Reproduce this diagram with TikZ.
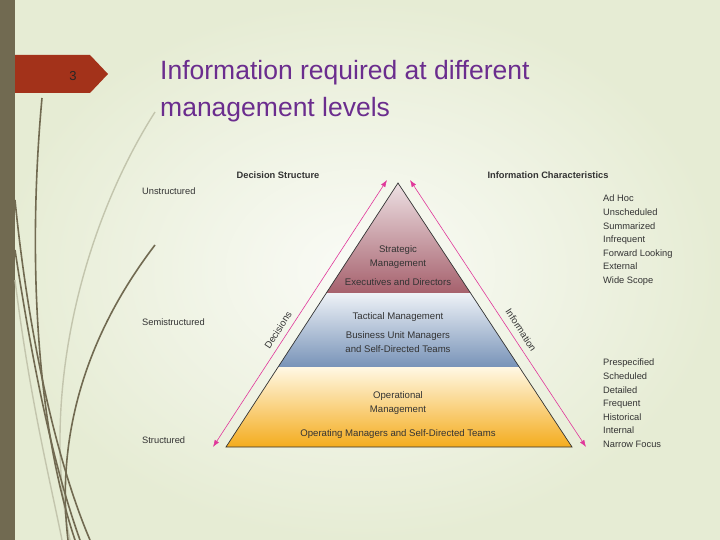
\documentclass[tikz,border=0pt]{standalone}
\usepackage{fontspec}
\setmainfont{Liberation Sans}
\usetikzlibrary{arrows.meta}
\definecolor{bgc}{HTML}{E6ECD4}
\definecolor{stripe}{HTML}{716A51}
\definecolor{tagred}{HTML}{A3321A}
\definecolor{ttl}{HTML}{6B2D8E}
\definecolor{pinkar}{HTML}{E0379A}
\definecolor{txt}{HTML}{333333}
\definecolor{sTop}{HTML}{EDE0E3}
\definecolor{sBot}{HTML}{A6616D}
\definecolor{tTop}{HTML}{EEF2F7}
\definecolor{tBot}{HTML}{7893B8}
\definecolor{oTop}{HTML}{FFF8E4}
\definecolor{oBot}{HTML}{F4AC1E}
\tikzset{
  small/.style={font=\fontsize{9.3}{11}\selectfont, text=txt, inner sep=0pt},
  hdr/.style={font=\bfseries\fontsize{9.3}{11}\selectfont, text=txt, inner sep=0pt},
  band/.style={font=\fontsize{9.6}{13.8}\selectfont, text=txt, align=center, inner sep=0pt},
  pinkarrow/.style={pinkar, line width=0.6pt, {Latex[length=7pt,width=5pt]}-{Latex[length=7pt,width=5pt]}},
  deco/.style={stripe, line width=1.6pt},
  decol/.style={stripe!30!bgc, line width=1.4pt},
  char/.style={small, anchor=north west, align=left, font=\fontsize{9.3}{13.6}\selectfont}
}
\begin{document}
\begin{tikzpicture}[x=1pt,y=-1pt]
\useasboundingbox (0,0) rectangle (720,540);
\shade[inner color=white!80!bgc, outer color=bgc] (0,0) rectangle (720,540);
% stripe
\fill[stripe] (0,0) rectangle (15,540);
% decorative curves
\draw[decol] (155,112) .. controls (80,230) and (40,400) .. (70,540);
\draw[decol] (15,280) .. controls (30,400) and (50,480) .. (62,540);
\draw[deco] (42,98) .. controls (28,250) and (35,420) .. (75,540);
\draw[deco] (155,245) .. controls (90,330) and (55,430) .. (68,540);
\draw[deco] (15,200) .. controls (30,350) and (60,470) .. (90,540);
\draw[deco] (15,250) .. controls (35,380) and (55,470) .. (80,540);
% tag
\fill[tagred] (15,55) -- (90,55) -- (108,74) -- (90,93) -- (15,93) -- cycle;
\node[font=\fontsize{13}{15}\selectfont\rmfamily, text=black!85] (num) at (73,76) {3};
% title
\node[anchor=west, text=ttl, font=\fontsize{26.5}{37}\selectfont, align=left, inner sep=0pt] (title) at (160,91) {Information required at different\\management levels};
% pyramid
\coordinate (A) at (398,183);
\coordinate (L) at (226,447);
\coordinate (R) at (572,447);
\begin{scope}
\clip (A) -- (L) -- (R) -- cycle;
\shade[top color=sTop, bottom color=sBot] (200,183) rectangle (600,293);
\shade[top color=tTop, bottom color=tBot] (200,293) rectangle (600,367);
\shade[top color=oTop, bottom color=oBot] (200,367) rectangle (600,447);
\end{scope}
\draw[black!80, line width=0.7pt] (A) -- (L) -- (R) -- cycle;
\node[band] (strat) at (398,257) {Strategic\\Management};
\node[band] (exec) at (398,282) {Executives and Directors};
\node[band] (tact) at (398,317) {Tactical Management};
\node[band] (bum) at (398,342) {Business Unit Managers\\and Self-Directed Teams};
\node[band] (oper) at (398,403) {Operational\\Management};
\node[band] (omgr) at (398,434) {Operating Managers and Self-Directed Teams};
% arrows
\coordinate (la) at (387,180);
\coordinate (lb) at (213,447);
\coordinate (ra) at (410,180);
\coordinate (rb) at (586,447);
\draw[pinkarrow] (lb) -- (la);
\draw[pinkarrow] (ra) -- (rb);
\node[small, rotate=56.9, font=\fontsize{9.6}{11}\selectfont] (dec) at (278,330) {Decisions};
\node[small, rotate=-56.9, font=\fontsize{9.6}{11}\selectfont] (inf) at (521,330) {Information};
% headers
\node[hdr] (ds) at (278,175) {Decision Structure};
\node[hdr] (ic) at (548,175) {Information Characteristics};
\node[small, anchor=west] (u) at (142,191) {Unstructured};
\node[small, anchor=west] (s) at (142,322) {Semistructured};
\node[small, anchor=west] (st) at (142,440) {Structured};
\node[char] (c1) at (603,195) {Ad Hoc\\Unscheduled\\Summarized\\Infrequent\\Forward Looking\\External\\Wide Scope};
\node[char] (c2) at (603,359) {Prespecified\\Scheduled\\Detailed\\Frequent\\Historical\\Internal\\Narrow Focus};
\end{tikzpicture}
\end{document}
